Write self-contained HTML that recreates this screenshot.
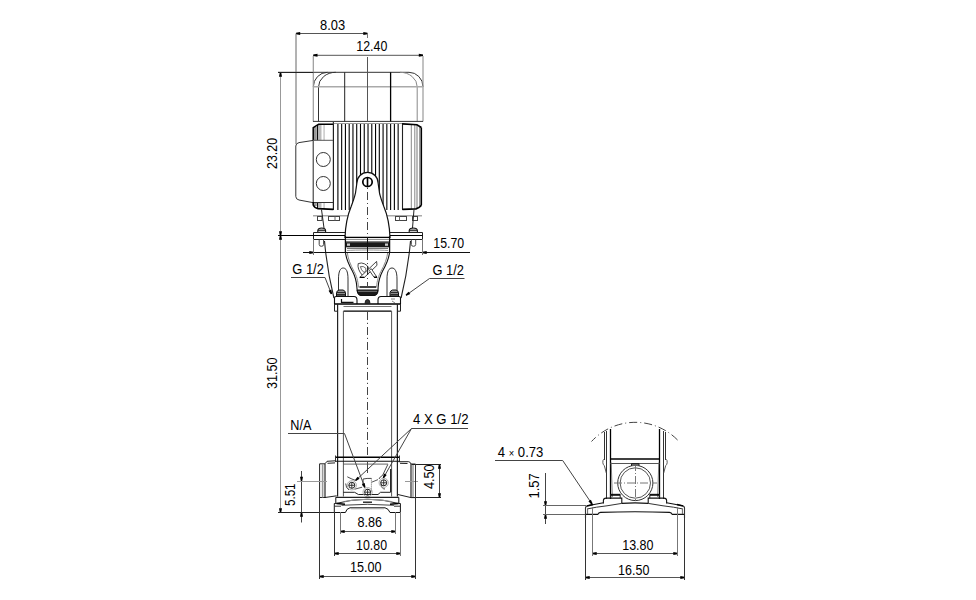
<!DOCTYPE html>
<html><head><meta charset="utf-8"><style>
html,body{margin:0;padding:0;background:#fff;}
svg{display:block;}
text{font-family:"Liberation Sans",sans-serif;}
</style></head><body>
<svg width="976" height="600" viewBox="0 0 976 600">
<rect width="976" height="600" fill="#fff"/>
<path d="M313.3,87 A14.2,14.8 0 0 1 327.4,72.3 M278,72.3 H409 A14,14.5 0 0 1 423,86.8" stroke="#333" stroke-width="1" fill="none" />
<path d="M318.5,121.5 V87 A17.3,14.7 0 0 1 335.8,72.3" stroke="#333" stroke-width="1" fill="none" />
<path d="M400,72.3 A17.2,14.5 0 0 1 417.2,86.8 V121.5" stroke="#888" stroke-width="1" fill="none" />
<path d="M313.3,56 V121.5" stroke="#999" stroke-width="1.2" fill="none" />
<path d="M423,56 V121.5" stroke="#999" stroke-width="1.2" fill="none" />
<path d="M313.3,86.8 H423" stroke="#aaa" stroke-width="1.6" fill="none" />
<path d="M313,121.4 H423" stroke="#333" stroke-width="1" fill="none" />
<path d="M344.7,72.3 V121.5" stroke="#222" stroke-width="1" fill="none" />
<path d="M390.6,72.3 V121.5" stroke="#000" stroke-width="1.3" fill="none" />
<path d="M367.5,57 V122" stroke="#555" stroke-width="1" fill="none" />
<path d="M337.90,124 V210" stroke="#000" stroke-width="1.1" fill="none" />
<path d="M341.66,124 V210" stroke="#000" stroke-width="1.1" fill="none" />
<path d="M345.43,124 V210" stroke="#000" stroke-width="1.1" fill="none" />
<path d="M349.19,124 V210" stroke="#000" stroke-width="1.1" fill="none" />
<path d="M352.96,124 V210" stroke="#000" stroke-width="1.1" fill="none" />
<path d="M356.72,124 V210" stroke="#000" stroke-width="1.1" fill="none" />
<path d="M360.49,124 V210" stroke="#000" stroke-width="1.1" fill="none" />
<path d="M364.25,124 V210" stroke="#000" stroke-width="1.1" fill="none" />
<path d="M368.02,124 V210" stroke="#000" stroke-width="1.1" fill="none" />
<path d="M371.78,124 V210" stroke="#000" stroke-width="1.1" fill="none" />
<path d="M375.55,124 V210" stroke="#000" stroke-width="1.1" fill="none" />
<path d="M379.31,124 V210" stroke="#000" stroke-width="1.1" fill="none" />
<path d="M383.08,124 V210" stroke="#000" stroke-width="1.1" fill="none" />
<path d="M386.84,124 V210" stroke="#000" stroke-width="1.1" fill="none" />
<path d="M390.61,124 V210" stroke="#000" stroke-width="1.1" fill="none" />
<path d="M394.38,124 V210" stroke="#000" stroke-width="1.1" fill="none" />
<path d="M398.14,124 V210" stroke="#000" stroke-width="1.1" fill="none" />
<path d="M333.5,122.5 V210 M402.5,123 V210" stroke="#222" stroke-width="1" fill="none" />
<path d="M333,123.5 H402" stroke="#999" stroke-width="1" fill="none" />
<rect x="313.2" y="127" width="3.6" height="13.3" fill="#999"/>
<rect x="318.4" y="124.8" width="3.1" height="15.5" fill="#bbb"/>
<rect x="323.3" y="124.8" width="1.6" height="15.5" fill="#ccc"/>
<path d="M317.6,125 V140.3" stroke="#000" stroke-width="1.1" fill="none" />
<path d="M313.2,140.3 V127.6 L318.6,124.3 H333" stroke="#000" stroke-width="1.5" fill="none" />
<path d="M313.3,140.4 L299,142.6 Q295.8,143.3 295.8,146 V196.5 Q295.8,199.3 299,200 L313.3,202.7" stroke="#333" stroke-width="1" fill="none" />
<path d="M313.2,140.3 V202.3 M333.3,122 V210" stroke="#222" stroke-width="1" fill="none" />
<circle cx="323.3" cy="159.5" r="7" stroke="#333" stroke-width="1" fill="none" />
<circle cx="323.3" cy="183.5" r="7" stroke="#333" stroke-width="1" fill="none" />
<path d="M313.2,140.3 H333" stroke="#555" stroke-width="1" fill="none" />
<rect x="313.2" y="202.5" width="3.6" height="3.5" fill="#999"/>
<rect x="318.4" y="202.5" width="3.1" height="6" fill="#bbb"/>
<rect x="323.3" y="202.5" width="1.6" height="6.5" fill="#ccc"/>
<path d="M317.6,202.5 V208" stroke="#000" stroke-width="1.1" fill="none" />
<path d="M313.2,202.5 H333" stroke="#333" stroke-width="1" fill="none" />
<path d="M313.2,202 V205 Q314.5,208 318,208.6 L333.3,209.4" stroke="#000" stroke-width="1.6" fill="none" />
<rect x="414" y="125" width="1.4" height="84" fill="#aaa"/>
<rect x="416" y="125" width="2" height="83" fill="#bbb"/>
<rect x="419" y="126" width="1.8" height="81" fill="#999"/>
<path d="M411.3,125 V209" stroke="#888" stroke-width="1" fill="none" />
<path d="M402.5,123.9 V209.4" stroke="#222" stroke-width="1.1" fill="none" />
<path d="M421.4,127.5 V205.3" stroke="#000" stroke-width="1.4" fill="none" />
<path d="M402.5,123.9 L416.9,124.8 L421.4,127.5" stroke="#000" stroke-width="1.6" fill="none" />
<path d="M402.5,209.4 L416,208.9 Q419.5,207.8 421.4,205.3" stroke="#000" stroke-width="1.8" fill="none" />
<path d="M313,215.8 H350 M385,215.8 H422" stroke="#aaa" stroke-width="1.6" fill="none" />
<rect x="317.5" y="216.5" width="4.5" height="4" stroke="#444" stroke-width="1" fill="none"/>
<rect x="328.5" y="216.5" width="11" height="4" stroke="#444" stroke-width="1" fill="none"/>
<path d="M335,216.5 V220.5" stroke="#666" stroke-width="1" fill="none" />
<rect x="395.5" y="216.5" width="11" height="4" stroke="#444" stroke-width="1" fill="none"/>
<path d="M399.5,216.5 V220.5" stroke="#666" stroke-width="1" fill="none" />
<rect x="412.5" y="216.5" width="5" height="4" stroke="#444" stroke-width="1" fill="none"/>
<path d="M321.5,209.5 L324,228" stroke="#222" stroke-width="1" fill="none" />
<path d="M317.8,232 V230.5 Q318,228 321.7,228 Q325.5,228 325.6,230.5 V232 M318,230.3 H325.5" stroke="#111" stroke-width="1.1" fill="#ccc" />
<path d="M414,209.5 L412.5,228" stroke="#222" stroke-width="1" fill="none" />
<path d="M409.2,232 V230.5 Q409.4,228 413.3,228 Q417.2,228 417.4,230.5 V232 M409.4,230.3 H417.2" stroke="#111" stroke-width="1.1" fill="#ccc" />
<path d="M345,238 C345.3,226 348,214 351.25,206.25 C354,199 355.6,195 355.9,190 L356.9,183 A10.6,10.6 0 0 1 378.1,183 L379.1,190 C379.4,195 381,199 383.75,206.25 C387,214 389.7,226 390,238" stroke="#111" stroke-width="1.2" fill="#fff" />
<ellipse cx="367.5" cy="182" rx="4.7" ry="4.5" stroke="#000" stroke-width="1.7" fill="#fff"/>
<path d="M367.5,177.5 V186.5" stroke="#000" stroke-width="1.6" fill="none" />
<path d="M367.5,187.5 V189" stroke="#444" stroke-width="1" fill="none" />
<path d="M367.5,192 V237" stroke="#444" stroke-width="1" fill="none" stroke-dasharray="8,3,1,3"/>
<path d="M313.5,239.5 V232.5 H345.5 M313.5,239.5 H345.5" stroke="#222" stroke-width="1" fill="none" />
<path d="M389.5,232.5 H422.5 V239.5 H389.5" stroke="#222" stroke-width="1" fill="none" />
<path d="M313,235.5 H345" stroke="#000" stroke-width="1" fill="none" />
<path d="M390,235.5 H422.5" stroke="#000" stroke-width="1" fill="none" />
<path d="M319.2,239.5 V244.5 Q319.2,246.3 321.4,246.3 Q323.6,246.3 323.6,244.5 V239.5" stroke="#444" stroke-width="1" fill="none" />
<path d="M411.3,239.5 V244.5 Q411.3,246.3 413.5,246.3 Q415.7,246.3 415.7,244.5 V239.5" stroke="#444" stroke-width="1" fill="none" />
<path d="M345.4,236 V253 M389.6,236 V253" stroke="#111" stroke-width="1.3" fill="none" />
<path d="M345.5,237.4 H389.5" stroke="#000" stroke-width="1.3" fill="none" />
<path d="M346,239.4 H389" stroke="#888" stroke-width="1" fill="none" />
<path d="M345.5,242.2 H389.5" stroke="#000" stroke-width="1.3" fill="none" />
<rect x="346" y="243" width="43" height="4.3" stroke="none" stroke-width="0" fill="#1a1a1a"/>
<rect x="347" y="243.5" width="3" height="2.3" stroke="none" stroke-width="0" fill="#ccc"/>
<rect x="385" y="243.5" width="3" height="2.3" stroke="none" stroke-width="0" fill="#ccc"/>
<path d="M347,248.4 H388" stroke="#666" stroke-width="1" fill="none" />
<path d="M347,250.5 C355,249.8 380,249.8 388,250.5" stroke="#999" stroke-width="1" fill="none" />
<path d="M367.5,237 V258" stroke="#111" stroke-width="1" fill="none" />
<path d="M345.5,252.5 C346,258 349,265 352.5,271.25 C355,276 356.5,280 356.9,287.5 L357.2,291 Q358,295.5 362,295.5 H373 Q377.5,295.5 378,291 L378.1,287.5 C378.5,280 380,276 382.5,271.25 C386,265 389,258 389.5,252.5" stroke="#111" stroke-width="1.1" fill="#fff" />
<path d="M347.3,252.5 C347.8,258 350.5,265 354,271.25 C356.5,276 358,280 358.4,287.5 M387.7,252.5 C387.2,258 384.5,265 381,271.25 C378.5,276 377,280 376.6,287.5" stroke="#888" stroke-width="1" fill="none" />
<path d="M359.5,287 H376" stroke="#111" stroke-width="1.6" fill="none" />
<path d="M357.2,290 Q357.5,295.5 362,295.5 H373 Q377.5,295.5 377.8,290 Z" stroke="#111" stroke-width="1" fill="#1a1a1a" />
<path d="M358,291.3 H377" stroke="#999" stroke-width="0.8" fill="none" />
<path d="M338.5,296 V279 C338.5,271 340.5,268 343.2,268 C346,268 348,271 348,279 V296" stroke="#333" stroke-width="1" fill="none" />
<path d="M387,296 V279 C387,271 389,268 392,268 C394.8,268 397,271 397,279 V296" stroke="#333" stroke-width="1" fill="none" />
<path d="M324.5,241 C326,258 329,278 333.9,298" stroke="#222" stroke-width="1.1" fill="none" />
<path d="M410.5,241 C409,258 406,278 401.1,298" stroke="#222" stroke-width="1.1" fill="none" />
<path d="M367.5,252 V288" stroke="#444" stroke-width="1" fill="none" stroke-dasharray="8,3,1,3"/>
<path d="M358.2,263.6 Q361.5,262.3 364.5,263.8 Q367.5,265.3 368.3,267.5 Q368.6,272 366,274.5 L362.3,275.2 Q357,269 358.2,263.6 Z" stroke="#333" stroke-width="0.9" fill="#fff" />
<path d="M360.4,266.6 Q363.5,265.8 365.8,268.2 Q366.5,271 364.2,272.6 Q360.8,270 360.4,266.6 Z" stroke="#444" stroke-width="0.8" fill="none" />
<path d="M376.6,261.4 L377,265.3 L364.4,277.4 L359.8,277.4 Z" stroke="#333" stroke-width="0.9" fill="#fff" />
<path d="M369.3,270.4 L371.2,268.6 L377,277.3 L374.1,277.3 Z" stroke="#333" stroke-width="0.9" fill="#fff" />
<path d="M359.8,277.4 H364.4 M374.1,277.3 H377" stroke="#000" stroke-width="1.4" fill="none" />
<path d="M367.6,266 V275" stroke="#222" stroke-width="1.1" fill="none" />
<path d="M334.5,304 V298 Q334.5,296.5 336,296.5 H354 Q357,296.5 357,300 V304" stroke="#111" stroke-width="1.1" fill="none" />
<path d="M341.5,299 V302.3 H353.5" stroke="#111" stroke-width="1.2" fill="none" />
<path d="M400.5,304 V298 Q400.5,296.5 399,296.5 H381 Q378,296.5 378,300 V304" stroke="#111" stroke-width="1.1" fill="none" />
<path d="M391,299 H395 M392,301 L395,303" stroke="#666" stroke-width="0.8" fill="none" />
<path d="M334.5,304 H400.5" stroke="#000" stroke-width="1.4" fill="none" />
<path d="M343.5,306.5 H391.5" stroke="#777" stroke-width="1" fill="none" />
<path d="M343.5,311.2 H391.5" stroke="#000" stroke-width="1.3" fill="none" />
<path d="M334.5,304 V311.2 H337.5 M400.5,304 V311.2 H397.5" stroke="#222" stroke-width="1" fill="none" />
<path d="M336.5,296 V292.5 Q337,290.5 339,290 H343 Q345,290.5 345.5,292.5 V296 Z" stroke="#111" stroke-width="1" fill="#999" />
<path d="M337,292.6 H345 M337,294.6 H345" stroke="#111" stroke-width="0.9" fill="none" />
<path d="M390,296 V292.5 Q390.5,290.5 392.5,290 H396 Q398,290.5 398.5,292.5 V296 Z" stroke="#111" stroke-width="1" fill="#999" />
<path d="M390.5,292.6 H398 M390.5,294.6 H398" stroke="#111" stroke-width="0.9" fill="none" />
<path d="M365,303.5 Q365,299.5 367.5,299.5 Q370,299.5 370,303.5 Z" stroke="#222" stroke-width="1" fill="#333" />
<path d="M337.6,304 V496.5 M397.4,304 V496.5" stroke="#222" stroke-width="1.2" fill="none" />
<path d="M343.4,311 V496.5 M391.6,311 V496.5" stroke="#555" stroke-width="1" fill="none" />
<path d="M367.5,312 V455" stroke="#444" stroke-width="1" fill="none" stroke-dasharray="8,2.8,1.2,3"/>
<path d="M335.5,457.3 H399.5" stroke="#000" stroke-width="1.6" fill="none" />
<path d="M335.5,461.3 H399.5" stroke="#111" stroke-width="1.1" fill="none" />
<path d="M335.5,455.5 V462 M399.5,455.5 V462" stroke="#333" stroke-width="1" fill="none" />
<path d="M367.5,462 V473" stroke="#444" stroke-width="1" fill="none" />
<path d="M335,460.8 L327,461.3 L325,463.8 H319.6 V497.5 H325 L336.7,495.8 M327.5,463.3 L335,462.9" stroke="#222" stroke-width="1" fill="none" />
<path d="M322.6,464 V497.5" stroke="#999" stroke-width="1.6" fill="none" />
<path d="M325,464 V498" stroke="#111" stroke-width="1.1" fill="none" />
<path d="M398.5,461.7 H408.7 Q410.5,462 411,464 H415.5 V497.6 H411 L397,494.3 M400,463.3 L407.5,463.5" stroke="#222" stroke-width="1" fill="none" />
<path d="M411,464 V497.8" stroke="#111" stroke-width="1.1" fill="none" />
<path d="M413,464 V497.5" stroke="#999" stroke-width="1.4" fill="none" />
<path d="M297,481.5 H327 M405,481.5 H418" stroke="#999" stroke-width="1" fill="none" />
<path d="M343.2,464.1 H388" stroke="#555" stroke-width="0.9" fill="none" />
<path d="M390.7,469 V492" stroke="#111" stroke-width="1.2" fill="none" />
<path d="M343.2,492.3 H354.6 L358.4,494.5 H378 L380.5,492.3 H390.7" stroke="#222" stroke-width="1" fill="none" />
<path d="M347.3,476.8 Q351,478.8 355.2,480.3 M345.7,483.5 Q345.8,488 349,490" stroke="#333" stroke-width="0.9" fill="none" />
<path d="M363.1,486 V479 Q367,478.2 371.4,478.4" stroke="#333" stroke-width="0.9" fill="none" />
<path d="M371.4,478.4 V492" stroke="#555" stroke-width="0.9" fill="none" stroke-dasharray="1,1"/>
<path d="M379,479 Q380,476.5 382.5,475.5 L387.8,464.5 M381,484 Q381.5,489 385,489" stroke="#333" stroke-width="0.9" fill="none" />
<path d="M371.7,482.2 L378,479.6 M354.6,489.2 L362.2,487.2" stroke="#444" stroke-width="0.9" fill="none" />
<circle cx="351.8" cy="485.3" r="4.6" stroke="#999" stroke-width="0.8" fill="none" />
<circle cx="351.8" cy="485.3" r="3.0" stroke="#222" stroke-width="1" fill="none" />
<path d="M348.8,485.3 H354.8 M351.8,482.3 V488.3" stroke="#222" stroke-width="0.9" fill="none" />
<circle cx="367.6" cy="492.2" r="4.6" stroke="#999" stroke-width="0.8" fill="none" />
<circle cx="367.6" cy="492.2" r="3.0" stroke="#222" stroke-width="1" fill="none" />
<path d="M364.6,492.2 H370.6 M367.6,489.2 V495.2" stroke="#222" stroke-width="0.9" fill="none" />
<circle cx="383.7" cy="482.8" r="4.6" stroke="#999" stroke-width="0.8" fill="none" />
<circle cx="383.7" cy="482.8" r="3.0" stroke="#222" stroke-width="1" fill="none" />
<path d="M380.7,482.8 H386.7 M383.7,479.8 V485.8" stroke="#222" stroke-width="0.9" fill="none" />
<path d="M335.8,497.4 H398.8" stroke="#222" stroke-width="1.3" fill="none" />
<path d="M335.8,497.4 V503.5 H334.3 V512.5 M398.8,497.4 V503.5 H400.4 V512.5" stroke="#111" stroke-width="1" fill="none" />
<path d="M335.8,503.5 Q367.7,495 398.8,503.5" stroke="#222" stroke-width="1" fill="none" />
<path d="M344.6,501.4 Q367.7,497.2 390.8,501.4" stroke="#999" stroke-width="1" fill="none" />
<path d="M341.5,505.3 Q367.7,503.3 394,505.3" stroke="#444" stroke-width="1" fill="none" />
<path d="M334.3,506.2 H341 M394,506.2 H400.4" stroke="#333" stroke-width="1" fill="none" />
<path d="M336.5,503.6 L345,504.2 M390,504.2 L398.5,503.6" stroke="#000" stroke-width="1.5" fill="none" />
<path d="M363,502.2 H372" stroke="#111" stroke-width="1.3" fill="none" />
<path d="M334.3,512.5 H345.4 Q346.5,508.5 350,507.8 H385 Q388.5,508.5 390,512.5 H400.4" stroke="#111" stroke-width="1" fill="none" />
<path d="M351,508.6 H384" stroke="#aaa" stroke-width="1.4" fill="none" />
<path d="M591.5,441.5 A59.5,59.5 0 0 1 679,441.5" stroke="#444" stroke-width="1" fill="none" stroke-dasharray="8,3,1,3" stroke-dashoffset="2"/>
<path d="M604.5,432 V460 M606.5,431 V499 M610.5,429 V499" stroke="#333" stroke-width="1" fill="none" />
<path d="M659.5,429 V499 M663.5,431 V499 M665.5,432 V460" stroke="#333" stroke-width="1" fill="none" />
<path d="M610.5,429 V499 M659.5,429 V499" stroke="#000" stroke-width="1.3" fill="none" />
<path d="M610.5,459 H659.5" stroke="#000" stroke-width="1.6" fill="none" />
<path d="M610.5,463.5 H659.5" stroke="#555" stroke-width="1" fill="none" />
<path d="M604.3,459 Q602.5,460 602.8,462.5 Q603,465 604.3,465.5 L606.3,473 M665.7,459 Q667.5,460 667.2,462.5 Q667,465 665.7,465.5 L663.7,473" stroke="#444" stroke-width="0.9" fill="none" />
<path d="M611.2,462.5 L612.4,497 M658.8,462.5 L657.6,497" stroke="#666" stroke-width="0.8" fill="none" />
<circle cx="635.3" cy="483" r="17.6" stroke="#333" stroke-width="1" fill="none" />
<circle cx="635.3" cy="483" r="15.2" stroke="#555" stroke-width="1" fill="none" />
<path d="M614,483 H657" stroke="#777" stroke-width="1" fill="none" stroke-dasharray="8,2,1,2"/>
<path d="M635.5,463 V500" stroke="#777" stroke-width="1" fill="none" stroke-dasharray="8,2,1,2"/>
<path d="M631.5,466 V463.5 H639 V466" stroke="#222" stroke-width="1" fill="#666" />
<path d="M603.4,503.5 V500.3 Q603.6,498.1 606,498.1 H621.8 V503.4" stroke="#111" stroke-width="1.1" fill="none" />
<path d="M666.6,503.5 V500.3 Q666.4,498.1 664,498.1 H648.2 V503.4" stroke="#111" stroke-width="1.1" fill="none" />
<path d="M610.7,498.1 V494.3 H620.2 V498.1 M649.8,498.1 V494.3 H659.3 V498.1" stroke="#222" stroke-width="1" fill="none" />
<path d="M611,495 H620 M650,495 H659" stroke="#000" stroke-width="1.4" fill="none" />
<path d="M621.8,503.4 Q635,502.2 648.2,503.4" stroke="#111" stroke-width="1.2" fill="none" />
<path d="M585.5,518 V508 Q585.7,506 587.4,505.8 L603.4,502.7 M684.5,518 V508 Q684.3,506 682.6,505.8 L666.6,502.7" stroke="#111" stroke-width="1.1" fill="none" />
<path d="M587.4,508.9 Q596,507 607,505.8 L621.8,503.4 M682.6,508.9 Q674,507 663,505.8 L648.2,503.4" stroke="#333" stroke-width="1" fill="none" />
<path d="M585.5,514.4 H597.8 Q598.5,512.6 600.5,512.4 Q635,511 669.5,512.4 Q671.5,512.6 672.2,514.4 H684.5" stroke="#111" stroke-width="1.1" fill="none" />
<path d="M587.6,508.5 V514 M682.4,508.5 V514" stroke="#555" stroke-width="0.9" fill="none" />
<path d="M587,506 L593,504.5 M677,504.5 L683,506" stroke="#000" stroke-width="1.6" fill="none" />
<line x1="296" y1="33.5" x2="367.5" y2="33.5" stroke="#555" stroke-width="1" />
<polygon points="296.00,32.80 296.00,34.20 300.20,35.00 300.20,32.00" fill="#000"/>
<polygon points="367.50,34.20 367.50,32.80 363.30,32.00 363.30,35.00" fill="#000"/>
<text transform="translate(320.00,30.00) scale(0.9222,1)" font-size="14" fill="#000">8.03</text>
<line x1="313.3" y1="55.3" x2="423" y2="55.3" stroke="#777" stroke-width="1.3" />
<polygon points="313.30,54.60 313.30,56.00 317.50,56.80 317.50,53.80" fill="#000"/>
<polygon points="423.00,56.00 423.00,54.60 418.80,53.80 418.80,56.80" fill="#000"/>
<text transform="translate(356.31,51.00) scale(0.8853,1)" font-size="14" fill="#000">12.40</text>
<line x1="296" y1="33.5" x2="296" y2="144" stroke="#666" stroke-width="1" />
<line x1="367.5" y1="33.5" x2="367.5" y2="38" stroke="#777" stroke-width="1" />
<line x1="280.5" y1="72" x2="280.5" y2="512" stroke="#999" stroke-width="1" />
<polygon points="281.20,72.50 279.80,72.50 279.00,76.70 282.00,76.70" fill="#000"/>
<polygon points="279.80,235.50 281.20,235.50 282.00,231.30 279.00,231.30" fill="#000"/>
<polygon points="281.20,235.50 279.80,235.50 279.00,239.70 282.00,239.70" fill="#000"/>
<polygon points="279.80,512.50 281.20,512.50 282.00,508.30 279.00,508.30" fill="#000"/>
<line x1="278" y1="72.5" x2="313.5" y2="72.5" stroke="#222" stroke-width="1" />
<line x1="278" y1="235.5" x2="313" y2="235.5" stroke="#000" stroke-width="1" />
<line x1="278" y1="512.5" x2="335" y2="512.5" stroke="#222" stroke-width="1" />
<text transform="translate(276.50,169.00) rotate(-90) scale(0.8886,1)" font-size="14" fill="#000">23.20</text>
<text transform="translate(276.50,389.00) rotate(-90) scale(0.9000,1)" font-size="14" fill="#000">31.50</text>
<line x1="303" y1="252.5" x2="470" y2="252.5" stroke="#111" stroke-width="1" />
<polygon points="313.50,253.20 313.50,251.80 309.30,251.00 309.30,254.00" fill="#000"/>
<polygon points="422.50,251.80 422.50,253.20 426.70,254.00 426.70,251.00" fill="#000"/>
<line x1="313.5" y1="239" x2="313.5" y2="255" stroke="#777" stroke-width="1" />
<line x1="422.5" y1="239" x2="422.5" y2="255" stroke="#777" stroke-width="1" />
<text transform="translate(433.32,247.80) scale(0.8824,1)" font-size="14" fill="#000">15.70</text>
<text transform="translate(292.20,274.00) scale(0.9265,1)" font-size="14" fill="#000">G 1/2</text>
<path d="M291,277.5 H325 L331.5,294" stroke="#444" stroke-width="1" fill="none" />
<polygon points="330.85,294.26 332.15,293.74 331.36,289.54 328.56,290.64" fill="#000"/>
<text transform="translate(432.50,274.90) scale(0.9191,1)" font-size="14" fill="#000">G 1/2</text>
<path d="M464.5,278.5 H429.5 L406,295.3" stroke="#444" stroke-width="1" fill="none" />
<polygon points="405.59,294.73 406.41,295.87 410.29,294.08 408.54,291.64" fill="#000"/>
<text transform="translate(290.25,429.75) scale(0.9062,1)" font-size="14" fill="#000">N/A</text>
<path d="M288,433.5 H344.5 L364.8,487.4" stroke="#444" stroke-width="1" fill="none" />
<polygon points="364.14,487.65 365.46,487.15 364.72,482.94 361.92,484.00" fill="#000"/>
<text transform="translate(412.90,424.00) scale(0.9424,1)" font-size="14" fill="#000">4 X G 1/2</text>
<path d="M468,428.5 H411.5 L355.5,480.6 M411.5,428.5 L383.3,478" stroke="#444" stroke-width="1" fill="none" />
<polygon points="355.02,480.09 355.98,481.11 359.60,478.84 357.56,476.64" fill="#000"/>
<polygon points="382.69,477.65 383.91,478.35 386.68,475.09 384.08,473.61" fill="#000"/>
<line x1="301.5" y1="471" x2="301.5" y2="522.5" stroke="#444" stroke-width="1" />
<polygon points="300.80,481.00 302.20,481.00 303.00,476.80 300.00,476.80" fill="#000"/>
<polygon points="302.20,512.50 300.80,512.50 300.00,516.70 303.00,516.70" fill="#000"/>
<line x1="297" y1="481.5" x2="327" y2="481.5" stroke="#999" stroke-width="1" />
<text transform="translate(294.70,506.00) rotate(-90) scale(0.8259,1)" font-size="14" fill="#000">5.51</text>
<line x1="439.5" y1="464" x2="439.5" y2="497.6" stroke="#444" stroke-width="1" />
<polygon points="440.20,464.50 438.80,464.50 438.00,468.70 441.00,468.70" fill="#000"/>
<polygon points="438.80,497.50 440.20,497.50 441.00,493.30 438.00,493.30" fill="#000"/>
<line x1="412" y1="464.5" x2="441" y2="464.5" stroke="#222" stroke-width="1" />
<line x1="412" y1="497.5" x2="441" y2="497.5" stroke="#222" stroke-width="1" />
<text transform="translate(434.00,489.00) rotate(-90) scale(0.9000,1)" font-size="14" fill="#000">4.50</text>
<line x1="340.5" y1="531.5" x2="395.5" y2="531.5" stroke="#555" stroke-width="1" />
<polygon points="340.50,530.80 340.50,532.20 344.70,533.00 344.70,530.00" fill="#000"/>
<polygon points="395.50,532.20 395.50,530.80 391.30,530.00 391.30,533.00" fill="#000"/>
<line x1="340.5" y1="512" x2="340.5" y2="534" stroke="#777" stroke-width="1" />
<line x1="395.5" y1="512" x2="395.5" y2="534" stroke="#777" stroke-width="1" />
<text transform="translate(357.40,526.90) scale(0.9019,1)" font-size="14" fill="#000">8.86</text>
<line x1="334.5" y1="553.5" x2="400.5" y2="553.5" stroke="#555" stroke-width="1" />
<polygon points="334.50,552.80 334.50,554.20 338.70,555.00 338.70,552.00" fill="#000"/>
<polygon points="400.50,554.20 400.50,552.80 396.30,552.00 396.30,555.00" fill="#000"/>
<line x1="334.5" y1="512" x2="334.5" y2="556" stroke="#333" stroke-width="1" />
<line x1="400.5" y1="512" x2="400.5" y2="556" stroke="#777" stroke-width="1" />
<text transform="translate(356.12,549.75) scale(0.8824,1)" font-size="14" fill="#000">10.80</text>
<line x1="319.5" y1="576.5" x2="415.5" y2="576.5" stroke="#555" stroke-width="1" />
<polygon points="319.50,575.80 319.50,577.20 323.70,578.00 323.70,575.00" fill="#000"/>
<polygon points="415.50,577.20 415.50,575.80 411.30,575.00 411.30,578.00" fill="#000"/>
<line x1="319.5" y1="497" x2="319.5" y2="579" stroke="#333" stroke-width="1" />
<line x1="415.5" y1="464" x2="415.5" y2="579" stroke="#333" stroke-width="1" />
<text transform="translate(350.00,572.00) scale(0.9029,1)" font-size="14" fill="#000">15.00</text>
<text transform="translate(497.80,457.20) scale(0.9367,1)" font-size="14" fill="#000">4 <tspan font-size="10">×</tspan> 0.73</text>
<path d="M495,460.5 H562.7 L592,504" stroke="#444" stroke-width="1" fill="none" />
<polygon points="591.42,504.39 592.58,503.61 590.90,499.68 588.41,501.35" fill="#000"/>
<line x1="545.5" y1="473" x2="545.5" y2="524" stroke="#444" stroke-width="1" />
<polygon points="544.80,505.50 546.20,505.50 547.00,501.30 544.00,501.30" fill="#000"/>
<polygon points="546.20,514.50 544.80,514.50 544.00,518.70 547.00,518.70" fill="#000"/>
<line x1="543" y1="505.5" x2="586" y2="505.5" stroke="#666" stroke-width="1" />
<line x1="543" y1="514.5" x2="586" y2="514.5" stroke="#666" stroke-width="1" />
<text transform="translate(539.00,498.42) rotate(-90) scale(0.9231,1)" font-size="14" fill="#000">1.57</text>
<line x1="592.5" y1="553.5" x2="677.5" y2="553.5" stroke="#555" stroke-width="1" />
<polygon points="592.50,552.80 592.50,554.20 596.70,555.00 596.70,552.00" fill="#000"/>
<polygon points="677.50,554.20 677.50,552.80 673.30,552.00 673.30,555.00" fill="#000"/>
<line x1="592.5" y1="507" x2="592.5" y2="556" stroke="#777" stroke-width="1" />
<line x1="677.5" y1="507" x2="677.5" y2="556" stroke="#777" stroke-width="1" />
<text transform="translate(622.21,550.00) scale(0.8941,1)" font-size="14" fill="#000">13.80</text>
<line x1="585.5" y1="577.5" x2="684.5" y2="577.5" stroke="#555" stroke-width="1" />
<polygon points="585.50,576.80 585.50,578.20 589.70,579.00 589.70,576.00" fill="#000"/>
<polygon points="684.50,578.20 684.50,576.80 680.30,576.00 680.30,579.00" fill="#000"/>
<line x1="585.5" y1="507" x2="585.5" y2="580" stroke="#333" stroke-width="1" />
<line x1="684.5" y1="507" x2="684.5" y2="580" stroke="#333" stroke-width="1" />
<text transform="translate(618.11,574.75) scale(0.8941,1)" font-size="14" fill="#000">16.50</text>
</svg>
</body></html>
